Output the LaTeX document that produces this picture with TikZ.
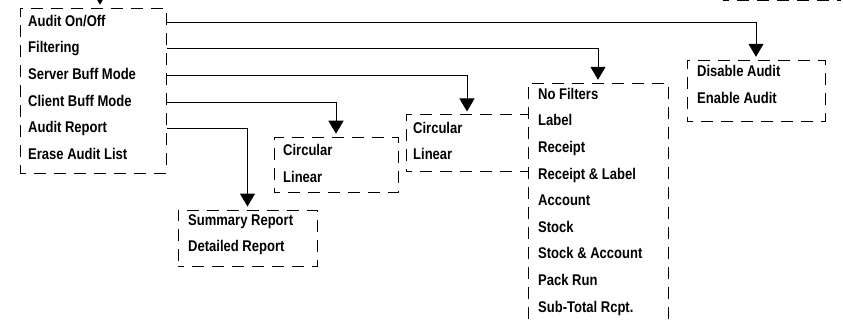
\documentclass[tikz,border=0pt]{standalone}
\usepackage{fontspec}
\newfontfamily\menufont{Liberation Sans}[FakeStretch=0.84]
\usepackage{tikz}
\usetikzlibrary{calc}
\usetikzlibrary{arrows.meta}
\usetikzlibrary{shapes,arrows}

\begin{document}
\begin{tikzpicture}[x=1pt,y=-1pt,
	menubox/.style={draw,thin,line width=1pt,dash pattern=on 12pt off 8pt,dash phase=6pt,rectangle,inner sep=0pt},
	item/.style={anchor=west,inner sep=0pt,text height=11pt,text depth=3pt,font=\menufont\bfseries\fontsize{15.5}{18}\selectfont},
	link/.style={line width=1pt,-{Triangle[length=13pt,width=15pt]},shorten >=3pt}]
				\useasboundingbox (0,0) rectangle (843,326);
				
				% boxes
				\node[menubox,minimum width=117,minimum height=70] (prev) at (781.5,-34) {};
				\node[menubox,minimum width=146,minimum height=165] (main) at (93,90.7) {};
				\node[menubox,minimum width=138,minimum height=61] (audit) at (756,90.8) {};
				\node[menubox,minimum width=140,minimum height=270] (filter) at (598,218.3) {};
				\node[menubox,minimum width=122,minimum height=56] (server) at (467,143) {};
				\node[menubox,minimum width=124,minimum height=55.5] (client) at (336,165) {};
				\node[menubox,minimum width=139,minimum height=56.7] (report) at (247.5,238.4) {};
				
				% main menu
				\node[item] (aonoff) at (28,22.5) {Audit On/Off};
				\node[item] (filtering) at (28,48.6) {Filtering};
				\node[item] (srvmode) at (28,75.7) {Server Buff Mode};
				\node[item] (climode) at (28,102.5) {Client Buff Mode};
				\node[item] (areport) at (28,128.4) {Audit Report};
				\node[item] (erase) at (28,155) {Erase Audit List};
				
				% audit on/off
				\node[item] (disable) at (697,72.7) {Disable Audit};
				\node[item] (enable) at (697,99.3) {Enable Audit};
				
				% filters
				\node[item] (nofilt) at (538,95.3) {No Filters};
				\node[item] (flabel) at (538,121.9) {Label};
				\node[item] (freceipt) at (538,148.5) {Receipt};
				\node[item] (frcptlab) at (538,175.1) {Receipt \& Label};
				\node[item] (faccount) at (538,201.7) {Account};
				\node[item] (fstock) at (538,228.3) {Stock};
				\node[item] (fstockacc) at (538,254.9) {Stock \& Account};
				\node[item] (fpack) at (538,281.5) {Pack Run};
				\node[item] (fsubtot) at (538,308.1) {Sub-Total Rcpt.};
				
				% server buffer mode
				\node[item] (scirc) at (413,129.3) {Circular};
				\node[item] (slin) at (413,155) {Linear};
				
				% client buffer mode
				\node[item] (ccirc) at (283,151) {Circular};
				\node[item] (clin) at (283,178.7) {Linear};
				
				% audit report
				\node[item] (summary) at (188,221) {Summary Report};
				\node[item] (detailed) at (188,247.7) {Detailed Report};
				
				% connectors
				\coordinate (mainin) at (100,-10);
				\draw[link] (mainin) -- (mainin |- main.north);
				\draw[link] (aonoff -| main.east) -| (audit.north);
				\draw[link] (filtering -| main.east) -| (filter.north);
				\draw[link] (srvmode -| main.east) -| (server.north);
				\draw[link] (climode -| main.east) -| (client.north);
				\draw[link] (areport -| main.east) -| (report.north);
				
\end{tikzpicture}
\end{document}
